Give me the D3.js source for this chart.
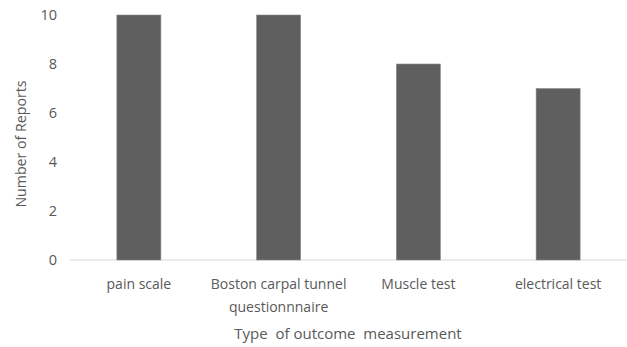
<!DOCTYPE html>
<html><head><meta charset="utf-8">
<script src="https://cdn.jsdelivr.net/npm/d3@7"></script>
<style>body{margin:0;background:#fff}svg text{font-family:"Open Sans","Noto Sans",sans-serif;fill:#595959}</style>
</head><body>
<svg id="c" width="627" height="347"></svg>
<script>
const categories = ["pain scale", "Boston carpal tunnel|questionnnaire", "Muscle test", "electrical test"];
const values = [10, 10, 8, 7];
const yTicks = [0, 2, 4, 6, 8, 10];
const xTitle = "Type  of outcome  measurement";
const yTitle = "Number of Reports";

const svg = d3.select("#c");
const x = d3.scaleBand().domain(categories).range([69, 628]).paddingInner(0.685).paddingOuter(0.3425);
const y = d3.scaleLinear().domain([0, 10]).range([260, 15]);

svg.append("line").attr("x1", 70).attr("x2", 627).attr("y1", y(0)).attr("y2", y(0))
  .attr("stroke", "#d9d9d9").attr("stroke-width", 1);

svg.selectAll("rect.bar").data(values).join("rect").attr("class", "bar")
  .attr("x", (d, i) => x(categories[i])).attr("width", x.bandwidth())
  .attr("y", d => y(d)).attr("height", d => y(0) - y(d))
  .attr("fill", "#5f5f5f").attr("stroke", "#8a8a8a").attr("stroke-width", 0.6);

svg.selectAll("text.yt").data(yTicks).join("text").attr("class", "yt")
  .attr("x", 57).attr("y", d => y(d)).attr("dy", "0.36em").attr("text-anchor", "end")
  .attr("font-size", 14.5).text(d => d);

categories.forEach((c, i) => {
  const lines = c.split("|");
  const t = svg.append("text").attr("text-anchor", "middle").attr("font-size", 14)
    .attr("x", x(c) + x.bandwidth() / 2).attr("y", 289);
  lines.forEach((l, j) => t.append("tspan").attr("x", x(c) + x.bandwidth() / 2).attr("dy", j ? 23 : 0).text(l));
});

svg.append("text").attr("x", 348).attr("y", 339).attr("text-anchor", "middle")
  .attr("font-size", 15).style("white-space", "pre").text(xTitle);

svg.append("text").attr("transform", "translate(26,144) rotate(-90)").attr("text-anchor", "middle")
  .attr("font-size", 14.2).text(yTitle);
</script>
</body></html>
